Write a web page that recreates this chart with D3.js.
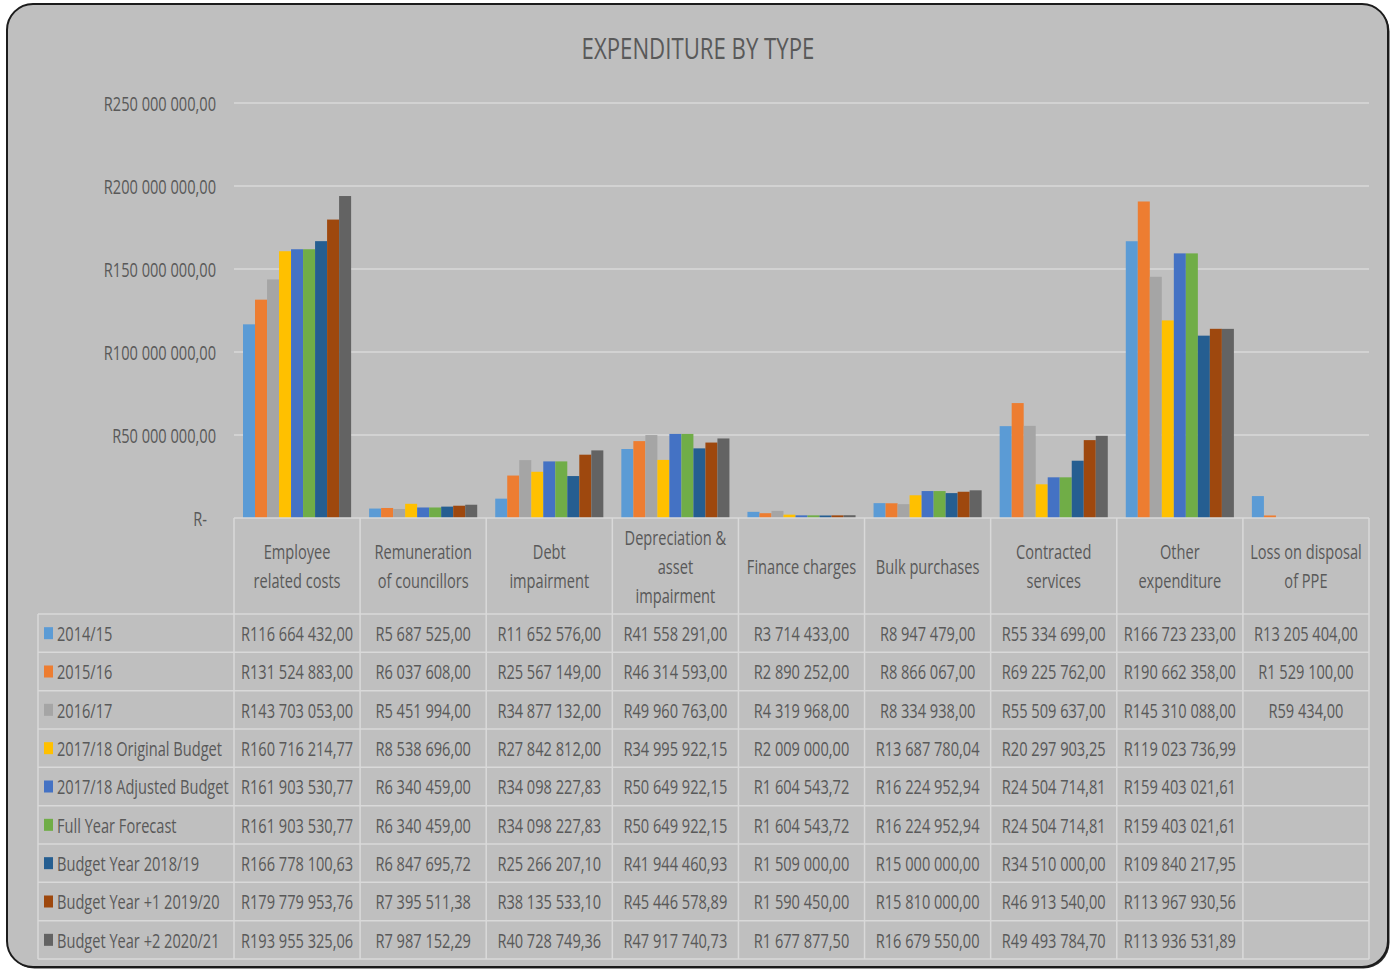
<!DOCTYPE html>
<html>
<head>
<meta charset="utf-8">
<script src="https://cdn.jsdelivr.net/npm/d3@7"></script>
<style>
  html, body { margin: 0; padding: 0; background: #ffffff; }
  svg { display: block; }
  text { font-family: "Open Sans", "Liberation Sans", sans-serif; fill: #595959; }
</style>
</head>
<body>
<svg id="chart" width="1394" height="970"></svg>
<script>
// Expenditure categories (table columns / bar groups)
const categories = [
  ["Employee", "related costs"],
  ["Remuneration", "of councillors"],
  ["Debt", "impairment"],
  ["Depreciation &", "asset", "impairment"],
  ["Finance charges"],
  ["Bulk purchases"],
  ["Contracted", "services"],
  ["Other", "expenditure"],
  ["Loss on disposal", "of PPE"]
];

// Series names and colours
const seriesNames = [
  "2014/15",
  "2015/16",
  "2016/17",
  "2017/18 Original Budget",
  "2017/18 Adjusted Budget",
  "Full Year Forecast",
  "Budget Year 2018/19",
  "Budget Year +1 2019/20",
  "Budget Year +2 2020/21"
];
const seriesColors = ["#5b9bd5", "#ed7d31", "#a5a5a5", "#ffc000", "#4472c4", "#70ad47", "#255e91", "#9e480e", "#636363"];

// Values per series, one entry per category (null = blank cell)
const v2014 = [116664432.00, 5687525.00, 11652576.00, 41558291.00, 3714433.00, 8947479.00, 55334699.00, 166723233.00, 13205404.00];
const v2015 = [131524883.00, 6037608.00, 25567149.00, 46314593.00, 2890252.00, 8866067.00, 69225762.00, 190662358.00, 1529100.00];
const v2016 = [143703053.00, 5451994.00, 34877132.00, 49960763.00, 4319968.00, 8334938.00, 55509637.00, 145310088.00, 59434.00];
const vOriginal = [160716214.77, 8538696.00, 27842812.00, 34995922.15, 2009000.00, 13687780.04, 20297903.25, 119023736.99, null];
const vAdjusted = [161903530.77, 6340459.00, 34098227.83, 50649922.15, 1604543.72, 16224952.94, 24504714.81, 159403021.61, null];
const vForecast = [161903530.77, 6340459.00, 34098227.83, 50649922.15, 1604543.72, 16224952.94, 24504714.81, 159403021.61, null];
const v2018 = [166778100.63, 6847695.72, 25266207.10, 41944460.93, 1509000.00, 15000000.00, 34510000.00, 109840217.95, null];
const v2019 = [179779953.76, 7395511.38, 38135533.10, 45446578.89, 1590450.00, 15810000.00, 46913540.00, 113967930.56, null];
const v2020 = [193955325.06, 7987152.29, 40728749.36, 47917740.73, 1677877.50, 16679550.00, 49493784.70, 113936531.89, null];

const seriesValues = [v2014, v2015, v2016, vOriginal, vAdjusted, vForecast, v2018, v2019, v2020];

// Value axis ticks
const yTicks = [0, 50000000, 100000000, 150000000, 200000000, 250000000];

const title = "EXPENDITURE BY TYPE";

// ---------------------------------------------------------------
const svg = d3.select("#chart");
const SX = 0.73;          // horizontal squeeze for the narrow typeface
const lineColor = "#d9d9d9";

// Currency formatting: R 123 456,78
const fmt2 = d3.format(",.2f");
function rand(v) {
  if (v === 0) return "R-";
  return "R" + fmt2(v).replace(/,/g, " ").replace(".", ",");
}

// Text helper drawing condensed text
function label(parent, x, y, str, anchor, size, sx) {
  const g = parent.append("g").attr("transform", `translate(${x},${y}) scale(${sx || SX},1)`);
  g.append("text")
    .attr("text-anchor", anchor || "middle")
    .attr("dominant-baseline", "central")
    .style("font-size", (size || 20) + "px")
    .text(str);
  return g;
}

// Frame
svg.append("rect")
  .attr("x", 8.5).attr("y", 5.5)
  .attr("width", 1381).attr("height", 963)
  .attr("rx", 26).attr("ry", 26)
  .attr("fill", "#2a2a2a");
svg.append("rect")
  .attr("x", 7).attr("y", 4)
  .attr("width", 1381).attr("height", 963)
  .attr("rx", 26).attr("ry", 26)
  .attr("fill", "#bfbfbf")
  .attr("stroke", "#1c1c1c").attr("stroke-width", 2);

// Title
label(svg, 698, 48, title, "middle", 30, 0.74);

// Layout
const plotLeft = 234, plotRight = 1369;
const plotTop = 103, plotBottom = 518;
const tableLeft = 38;
const headerBottom = 614;
const rowH = (959 - 614) / 9;

const x0 = d3.scaleBand().domain(d3.range(categories.length)).range([plotLeft, plotRight]).padding(0);
const bw = x0.bandwidth();
const x1 = d3.scaleBand().domain(d3.range(seriesNames.length))
  .range([bw * 0.0714, bw * 0.9286]).padding(0);
const y = d3.scaleLinear().domain([0, 250000000]).range([plotBottom, plotTop]);

// Gridlines
svg.append("g").selectAll("line").data(yTicks.filter(t => t > 0)).join("line")
  .attr("x1", plotLeft).attr("x2", plotRight)
  .attr("y1", d => y(d)).attr("y2", d => y(d))
  .attr("stroke", lineColor).attr("stroke-width", 1.3);

// Y tick labels
const yAxisG = svg.append("g");
yTicks.forEach(t => {
  label(yAxisG, t === 0 ? 207 : 216, y(t), rand(t), "end", 20);
});

// Bars
const barsG = svg.append("g");
seriesValues.forEach((vals, si) => {
  barsG.append("g").selectAll("rect")
    .data(vals.map((v, ci) => ({ v, ci })).filter(d => d.v !== null))
    .join("rect")
    .attr("x", d => x0(d.ci) + x1(si))
    .attr("width", x1.bandwidth())
    .attr("y", d => y(d.v))
    .attr("height", d => plotBottom - y(d.v))
    .attr("fill", seriesColors[si]);
});

// Data table lines
const tableG = svg.append("g").attr("stroke", lineColor).attr("stroke-width", 1.5);
tableG.append("line").attr("x1", plotLeft).attr("x2", plotRight).attr("y1", plotBottom).attr("y2", plotBottom);
for (let r = 0; r <= seriesNames.length; r++) {
  const yy = headerBottom + r * rowH;
  tableG.append("line").attr("x1", tableLeft).attr("x2", plotRight).attr("y1", yy).attr("y2", yy);
}
for (let c = 0; c <= categories.length; c++) {
  const xx = x0(0) + c * bw;
  tableG.append("line").attr("x1", xx).attr("x2", xx).attr("y1", plotBottom).attr("y2", 959);
}
tableG.append("line").attr("x1", tableLeft).attr("x2", tableLeft).attr("y1", headerBottom).attr("y2", 959);

// Category headers
const headG = svg.append("g");
const headMid = 566, lineGap = 29;
categories.forEach((lines, ci) => {
  const cx = x0(ci) + bw / 2;
  lines.forEach((ln, li) => {
    label(headG, cx, headMid + (li - (lines.length - 1) / 2) * lineGap, ln, "middle", 20);
  });
});

// Legend keys, series names and cell values
const rowsG = svg.append("g");
seriesNames.forEach((name, si) => {
  const cy = headerBottom + (si + 0.5) * rowH;
  rowsG.append("rect")
    .attr("x", 44).attr("y", cy - 6).attr("width", 9).attr("height", 12)
    .attr("fill", seriesColors[si]);
  label(rowsG, 57, cy, name, "start", 20);
  seriesValues[si].forEach((v, ci) => {
    if (v === null) return;
    label(rowsG, x0(ci) + bw / 2, cy, rand(v), "middle", 20);
  });
});
</script>
</body>
</html>
